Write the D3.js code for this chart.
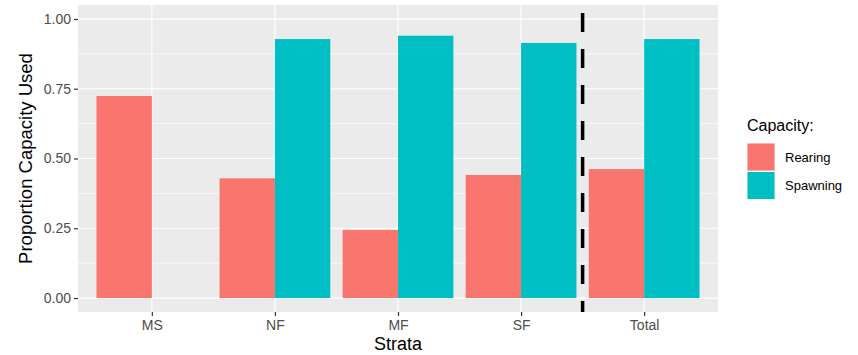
<!DOCTYPE html>
<html>
<head>
<meta charset="utf-8">
<script src="https://cdn.jsdelivr.net/npm/d3@7"></script>
<style>
  body { margin: 0; background: #fff; }
  text { font-family: "Liberation Sans", Arial, sans-serif; }
</style>
</head>
<body>
<svg></svg>
<script>
// data
var strata = ['MS', 'NF', 'MF', 'SF', 'Total'];
var groups = ['Rearing', 'Spawning'];
var rearing = [0.724, 0.429, 0.244, 0.441, 0.462];
var spawning = [null, 0.928, 0.940, 0.914, 0.928];
var yTicks = [0, 0.25, 0.5, 0.75, 1];
var colors = ['#F8766D', '#00BFC4'];

var svgWidth = 858, svgHeight = 355;
var panel = { left: 78, right: 718, top: 5, bottom: 312 };

var svg = d3.select('svg')
  .attr('width', svgWidth)
  .attr('height', svgHeight);

var rows = [];
strata.forEach(function(s, i) {
  rows.push({ stratum: s, group: 'Rearing', value: rearing[i] });
  rows.push({ stratum: s, group: 'Spawning', value: spawning[i] });
});

// ggplot style discrete scale: 0.6 expansion each side
var x = d3.scaleLinear()
  .domain([0.4, strata.length + 0.6])
  .range([panel.left, panel.right]);

var y = d3.scaleLinear()
  .domain([-0.05, 1.05])
  .range([panel.bottom, panel.top]);

var color = d3.scaleOrdinal().domain(groups).range(colors);

// panel background
svg.append('rect')
  .attr('x', panel.left).attr('y', panel.top)
  .attr('width', panel.right - panel.left)
  .attr('height', panel.bottom - panel.top)
  .attr('fill', '#EBEBEB');

// minor grid
var minor = [0.125, 0.375, 0.625, 0.875];
svg.append('g').selectAll('line')
  .data(minor).enter().append('line')
  .attr('x1', panel.left).attr('x2', panel.right)
  .attr('y1', d => y(d)).attr('y2', d => y(d))
  .attr('stroke', '#fff').attr('stroke-width', 0.6);

// major grid
svg.append('g').selectAll('line')
  .data(yTicks).enter().append('line')
  .attr('x1', panel.left).attr('x2', panel.right)
  .attr('y1', d => y(d)).attr('y2', d => y(d))
  .attr('stroke', '#fff').attr('stroke-width', 1.2);

svg.append('g').selectAll('line')
  .data(strata).enter().append('line')
  .attr('x1', (d, i) => x(i + 1)).attr('x2', (d, i) => x(i + 1))
  .attr('y1', panel.top).attr('y2', panel.bottom)
  .attr('stroke', '#fff').attr('stroke-width', 1.2);

// bars, dodged, total width 0.9
var bw = 0.45;
svg.append('g').selectAll('rect')
  .data(rows.filter(d => d.value != null)).enter().append('rect')
  .attr('x', d => x(strata.indexOf(d.stratum) + 1 + (d.group == 'Rearing' ? -bw : 0)))
  .attr('width', x(bw) - x(0))
  .attr('y', d => y(d.value))
  .attr('height', d => y(0) - y(d.value))
  .attr('fill', d => color(d.group));

// dashed separator before Total
svg.append('line')
  .attr('x1', x(4.5)).attr('x2', x(4.5))
  .attr('y1', panel.top).attr('y2', panel.bottom)
  .attr('stroke', '#000').attr('stroke-width', 3.5)
  .attr('stroke-dasharray', '19,17')
  .attr('stroke-dashoffset', -8);

// y axis
var yAxis = g => g
  .attr('transform', 'translate(' + panel.left + ',0)')
  .call(d3.axisLeft(y).tickValues(yTicks).tickFormat(d3.format('.2f')).tickSize(4).tickPadding(3))
  .call(g => g.select('.domain').remove())
  .call(g => g.selectAll('line').attr('stroke', '#333').attr('stroke-width', 1.2))
  .call(g => g.selectAll('text').attr('fill', '#4D4D4D').style('font-size', '14px'));
svg.append('g').call(yAxis);

// x axis
var xAxis = g => g
  .attr('transform', 'translate(0,' + panel.bottom + ')')
  .call(d3.axisBottom(x).tickValues(d3.range(1, strata.length + 1))
    .tickFormat(d => strata[d - 1]).tickSize(4).tickPadding(4))
  .call(g => g.select('.domain').remove())
  .call(g => g.selectAll('line').attr('stroke', '#333').attr('stroke-width', 1.2))
  .call(g => g.selectAll('text').attr('fill', '#4D4D4D').style('font-size', '14px'));
svg.append('g').call(xAxis);

// axis titles
svg.append('text')
  .attr('x', (panel.left + panel.right) / 2).attr('y', 350)
  .attr('text-anchor', 'middle')
  .style('font-size', '18px').attr('fill', '#000')
  .text('Strata');

svg.append('text')
  .attr('transform', 'translate(32,' + ((panel.top + panel.bottom) / 2) + ') rotate(-90)')
  .attr('text-anchor', 'middle')
  .style('font-size', '18.5px').attr('fill', '#000')
  .text('Proportion Capacity Used');

// legend
var legend = svg.append('g').attr('transform', 'translate(747,0)');
legend.append('text')
  .attr('x', 0).attr('y', 131)
  .style('font-size', '16px').attr('fill', '#000')
  .text('Capacity:');

var keys = legend.selectAll('g.key')
  .data(groups).enter().append('g')
  .attr('class', 'key')
  .attr('transform', (d, i) => 'translate(0,' + (143 + i * 28.5) + ')');
keys.append('rect')
  .attr('width', 28).attr('height', 28)
  .attr('fill', '#F2F2F2');
keys.append('rect')
  .attr('x', 0.5).attr('y', 0.5)
  .attr('width', 27).attr('height', 27)
  .attr('fill', d => color(d));
keys.append('text')
  .attr('x', 38).attr('y', 14)
  .attr('dy', '0.35em')
  .style('font-size', '13px').attr('fill', '#000')
  .text(d => d);
</script>
</body>
</html>
